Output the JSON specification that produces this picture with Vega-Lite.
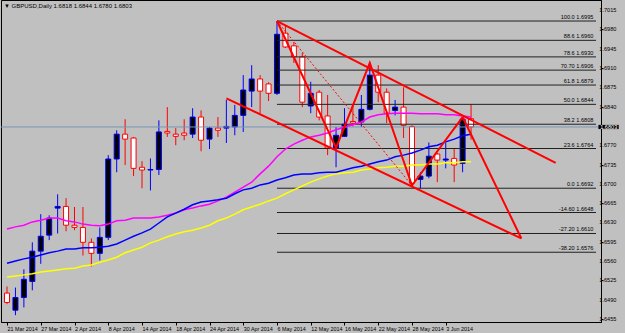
{
"$schema": "https://vega.github.io/schema/vega-lite/v6.json",
"width": 600, "height": 322,
"autosize": {"type": "none"},
"padding": {"left": 1, "top": 0, "right": 24, "bottom": 11},
"background": "#c0c0c0",
"config": {"view": {"fill": "#c0c0c0", "stroke": "#000000", "strokeWidth": 1}, "font": "Liberation Sans"},
"title": {"text": "▼ GBPUSD,Daily  1.6818 1.6844 1.6780 1.6803", "anchor": "start", "frame": "group", "fontSize": 6, "fontWeight": "normal", "font": "Liberation Sans", "color": "#000000", "offset": -9, "dx": 3, "baseline": "top"},
"datasets": {
"candles": [
{"i":0,"o":1.6502,"h":1.6514,"l":1.6482,"c":1.6485,"m1":1.6618,"m2":1.6556,"m3":1.6531},
{"i":1,"o":1.6471,"h":1.6512,"l":1.6462,"c":1.6494,"m1":1.6622,"m2":1.6560,"m3":1.6533},
{"i":2,"o":1.6494,"h":1.6545,"l":1.6476,"c":1.6527,"m1":1.6625,"m2":1.6564,"m3":1.6535},
{"i":3,"o":1.6523,"h":1.6594,"l":1.6507,"c":1.6578,"m1":1.6631,"m2":1.6567,"m3":1.6537},
{"i":4,"o":1.6578,"h":1.6645,"l":1.6555,"c":1.6605,"m1":1.6634,"m2":1.6571,"m3":1.6540},
{"i":5,"o":1.6607,"h":1.6643,"l":1.6598,"c":1.6638,"m1":1.6638,"m2":1.6575,"m3":1.6542},
{"i":6,"o":1.6656,"h":1.6681,"l":1.6610,"c":1.6659,"m1":1.6638,"m2":1.6578,"m3":1.6544},
{"i":7,"o":1.6659,"h":1.6674,"l":1.6614,"c":1.6625,"m1":1.6633,"m2":1.6582,"m3":1.6546},
{"i":8,"o":1.6625,"h":1.6658,"l":1.6616,"c":1.6621,"m1":1.6631,"m2":1.6582,"m3":1.6547},
{"i":9,"o":1.6621,"h":1.6658,"l":1.6570,"c":1.6594,"m1":1.6627,"m2":1.6584,"m3":1.6551},
{"i":10,"o":1.6594,"h":1.6601,"l":1.6550,"c":1.6574,"m1":1.6625,"m2":1.6584,"m3":1.6553},
{"i":11,"o":1.6574,"h":1.6621,"l":1.6561,"c":1.6603,"m1":1.6624,"m2":1.6585,"m3":1.6558},
{"i":12,"o":1.6603,"h":1.6752,"l":1.6598,"c":1.6745,"m1":1.6627,"m2":1.6587,"m3":1.6562},
{"i":13,"o":1.6745,"h":1.6797,"l":1.6721,"c":1.6790,"m1":1.6633,"m2":1.6591,"m3":1.6567},
{"i":14,"o":1.6790,"h":1.6817,"l":1.6734,"c":1.6781,"m1":1.6634,"m2":1.6598,"m3":1.6575},
{"i":15,"o":1.6783,"h":1.6785,"l":1.6714,"c":1.6728,"m1":1.6638,"m2":1.6605,"m3":1.6580},
{"i":16,"o":1.6730,"h":1.6741,"l":1.6692,"c":1.6725,"m1":1.6638,"m2":1.6611,"m3":1.6585},
{"i":17,"o":1.6725,"h":1.6746,"l":1.6688,"c":1.6726,"m1":1.6638,"m2":1.6618,"m3":1.6593},
{"i":18,"o":1.6726,"h":1.6815,"l":1.6716,"c":1.6794,"m1":1.6640,"m2":1.6629,"m3":1.6598},
{"i":19,"o":1.6795,"h":1.6839,"l":1.6785,"c":1.6792,"m1":1.6643,"m2":1.6640,"m3":1.6604},
{"i":20,"o":1.6790,"h":1.6801,"l":1.6770,"c":1.6786,"m1":1.6647,"m2":1.6647,"m3":1.6609},
{"i":21,"o":1.6792,"h":1.6817,"l":1.6779,"c":1.6788,"m1":1.6653,"m2":1.6654,"m3":1.6613},
{"i":22,"o":1.6790,"h":1.6837,"l":1.6783,"c":1.6821,"m1":1.6656,"m2":1.6662,"m3":1.6616},
{"i":23,"o":1.6821,"h":1.6833,"l":1.6759,"c":1.6779,"m1":1.6660,"m2":1.6667,"m3":1.6620},
{"i":24,"o":1.6781,"h":1.6803,"l":1.6763,"c":1.6801,"m1":1.6663,"m2":1.6669,"m3":1.6625},
{"i":25,"o":1.6801,"h":1.6821,"l":1.6785,"c":1.6797,"m1":1.6669,"m2":1.6671,"m3":1.6633},
{"i":26,"o":1.6801,"h":1.6852,"l":1.6774,"c":1.6804,"m1":1.6676,"m2":1.6674,"m3":1.6638},
{"i":27,"o":1.6803,"h":1.6843,"l":1.6788,"c":1.6824,"m1":1.6685,"m2":1.6682,"m3":1.6645},
{"i":28,"o":1.6824,"h":1.6897,"l":1.6794,"c":1.6870,"m1":1.6694,"m2":1.6689,"m3":1.6653},
{"i":29,"o":1.6868,"h":1.6915,"l":1.6839,"c":1.6890,"m1":1.6703,"m2":1.6692,"m3":1.6658},
{"i":30,"o":1.6890,"h":1.6897,"l":1.6828,"c":1.6868,"m1":1.6718,"m2":1.6698,"m3":1.6663},
{"i":31,"o":1.6881,"h":1.6884,"l":1.6850,"c":1.6864,"m1":1.6732,"m2":1.6701,"m3":1.6669},
{"i":32,"o":1.6864,"h":1.6995,"l":1.6861,"c":1.6971,"m1":1.6749,"m2":1.6707,"m3":1.6674},
{"i":33,"o":1.6973,"h":1.6988,"l":1.6946,"c":1.6948,"m1":1.6763,"m2":1.6711,"m3":1.6682},
{"i":34,"o":1.6950,"h":1.6957,"l":1.6919,"c":1.6930,"m1":1.6772,"m2":1.6716,"m3":1.6689},
{"i":35,"o":1.6930,"h":1.6937,"l":1.6839,"c":1.6848,"m1":1.6779,"m2":1.6718,"m3":1.6696},
{"i":36,"o":1.6841,"h":1.6885,"l":1.6828,"c":1.6864,"m1":1.6785,"m2":1.6718,"m3":1.6703},
{"i":37,"o":1.6866,"h":1.6870,"l":1.6815,"c":1.6821,"m1":1.6788,"m2":1.6720,"m3":1.6709},
{"i":38,"o":1.6823,"h":1.6861,"l":1.6752,"c":1.6765,"m1":1.6792,"m2":1.6721,"m3":1.6714},
{"i":39,"o":1.6765,"h":1.6803,"l":1.6730,"c":1.6788,"m1":1.6798,"m2":1.6721,"m3":1.6718},
{"i":40,"o":1.6786,"h":1.6837,"l":1.6785,"c":1.6808,"m1":1.6803,"m2":1.6725,"m3":1.6720},
{"i":41,"o":1.6813,"h":1.6841,"l":1.6804,"c":1.6810,"m1":1.6807,"m2":1.6729,"m3":1.6721},
{"i":42,"o":1.6812,"h":1.6861,"l":1.6803,"c":1.6835,"m1":1.6812,"m2":1.6732,"m3":1.6725},
{"i":43,"o":1.6835,"h":1.6919,"l":1.6833,"c":1.6897,"m1":1.6821,"m2":1.6736,"m3":1.6727},
{"i":44,"o":1.6897,"h":1.6915,"l":1.6848,"c":1.6866,"m1":1.6825,"m2":1.6740,"m3":1.6729},
{"i":45,"o":1.6866,"h":1.6873,"l":1.6810,"c":1.6828,"m1":1.6827,"m2":1.6743,"m3":1.6730},
{"i":46,"o":1.6833,"h":1.6852,"l":1.6824,"c":1.6839,"m1":1.6828,"m2":1.6749,"m3":1.6732},
{"i":47,"o":1.6839,"h":1.6875,"l":1.6783,"c":1.6806,"m1":1.6828,"m2":1.6752,"m3":1.6732},
{"i":48,"o":1.6804,"h":1.6806,"l":1.6696,"c":1.6701,"m1":1.6828,"m2":1.6756,"m3":1.6734},
{"i":49,"o":1.6708,"h":1.6721,"l":1.6692,"c":1.6714,"m1":1.6827,"m2":1.6761,"m3":1.6734},
{"i":50,"o":1.6714,"h":1.6775,"l":1.6710,"c":1.6750,"m1":1.6827,"m2":1.6767,"m3":1.6736},
{"i":51,"o":1.6754,"h":1.6756,"l":1.6703,"c":1.6743,"m1":1.6827,"m2":1.6770,"m3":1.6736},
{"i":52,"o":1.6743,"h":1.6774,"l":1.6728,"c":1.6745,"m1":1.6825,"m2":1.6776,"m3":1.6738},
{"i":53,"o":1.6746,"h":1.6765,"l":1.6703,"c":1.6734,"m1":1.6825,"m2":1.6781,"m3":1.6738},
{"i":54,"o":1.6737,"h":1.6821,"l":1.6721,"c":1.6817,"m1":1.6823,"m2":1.6787,"m3":1.6740},
{"i":55,"o":1.6818,"h":1.6844,"l":1.6780,"c":1.6803,"m1":1.6821,"m2":1.6790,"m3":1.6740}
],
"fib": [
{"lbl":"100.0 1.6995","p":1.6995},
{"lbl":"88.6 1.6960","p":1.6960},
{"lbl":"78.6 1.6930","p":1.6930},
{"lbl":"70.70 1.6906","p":1.6906},
{"lbl":"61.8 1.6879","p":1.6879},
{"lbl":"50.0 1.6844","p":1.6844},
{"lbl":"38.2 1.6808","p":1.6808},
{"lbl":"23.6 1.6764","p":1.6764},
{"lbl":"0.0 1.6692","p":1.6692},
{"lbl":"-14.60 1.6648","p":1.6648},
{"lbl":"-27.20 1.6610","p":1.6610},
{"lbl":"-38.20 1.6576","p":1.6576}
],
"objs": [
{"seg":"upper","k":0,"i":32,"p":1.6995},
{"seg":"upper","k":1,"i":65.03,"p":1.6738},
{"seg":"lower","k":0,"i":26,"p":1.6855},
{"seg":"lower","k":1,"i":60.96,"p":1.6601},
{"seg":"apex","k":0,"i":54,"p":1.6821},
{"seg":"apex","k":1,"i":60.96,"p":1.6601},
{"seg":"zigzag","k":0,"i":32,"p":1.6995},
{"seg":"zigzag","k":1,"i":39,"p":1.6765},
{"seg":"zigzag","k":2,"i":43,"p":1.6919},
{"seg":"zigzag","k":3,"i":48,"p":1.6697},
{"seg":"zigzag","k":4,"i":54,"p":1.6821}
],
"diag": [
{"k":0,"i":32,"p":1.6995},
{"k":1,"i":48,"p":1.6697}
],
"bid": [{"bid": 1.6803, "lbl": "1.6803"}],
"yt": [
{"v":1.7015,"t":"1.7015"},{"v":1.698,"t":"1.6980"},{"v":1.6945,"t":"1.6945"},{"v":1.691,"t":"1.6910"},
{"v":1.6875,"t":"1.6875"},{"v":1.684,"t":"1.6840"},{"v":1.677,"t":"1.6770"},{"v":1.6735,"t":"1.6735"},
{"v":1.67,"t":"1.6700"},{"v":1.6665,"t":"1.6665"},{"v":1.663,"t":"1.6630"},{"v":1.6595,"t":"1.6595"},
{"v":1.656,"t":"1.6560"},{"v":1.6525,"t":"1.6525"},{"v":1.649,"t":"1.6490"},{"v":1.6455,"t":"1.6455"}
]
},
"layer": [
{
"data": {"name": "candles"},
"mark": {"type": "rule", "strokeWidth": 1},
"encoding": {
"x": {"field": "i", "type": "quantitative", "scale": {"domain": [-0.12, 69.81], "nice": false, "zero": false},
"axis": {"values": [0,4,8,12,16,20,24,28,32,36,40,44,48,52], "labelExpr": "['21 Mar 2014','27 Mar 2014','2 Apr 2014','8 Apr 2014','14 Apr 2014','18 Apr 2014','24 Apr 2014','30 Apr 2014','6 May 2014','12 May 2014','16 May 2014','22 May 2014','28 May 2014','3 Jun 2014'][round(datum.value/4)]", "title": null, "grid": false, "domainColor": "#000000", "tickColor": "#000000", "tickSize": 3, "labelAlign": "left", "labelPadding": 1, "labelFontSize": 5.4, "labelColor": "#000000", "labelFlush": false, "labelOverlap": false, "labelFont": "Liberation Sans"}},
"y": {"field": "l", "type": "quantitative", "scale": {"domain": [1.64496, 1.70331], "nice": false, "zero": false},
"axis": {"orient": "right", "values": [1.7015,1.698,1.6945,1.691,1.6875,1.684,1.677,1.6735,1.67,1.6665,1.663,1.6595,1.656,1.6525,1.649,1.6455], "labels": false, "title": null, "grid": false, "domainColor": "#000000", "tickColor": "#000000", "tickSize": 2}},
"y2": {"field": "h"},
"color": {"condition": {"test": "datum.c >= datum.o", "value": "#0000ff"}, "value": "#ff0000"}
}
},
{
"data": {"name": "candles"},
"mark": {"type": "bar", "width": 5, "strokeWidth": 1},
"encoding": {
"x": {"field": "i", "type": "quantitative"},
"y": {"field": "o", "type": "quantitative", "axis": {"title": null}},
"y2": {"field": "c"},
"fill": {"condition": {"test": "datum.c >= datum.o", "value": "#000000"}, "value": "#ffffff"},
"stroke": {"condition": {"test": "datum.c >= datum.o", "value": "#0000ff"}, "value": "#ff0000"}
}
},
{
"data": {"name": "fib"},
"mark": {"type": "rule", "color": "#202020", "strokeWidth": 1},
"encoding": {
"x": {"datum": 32, "type": "quantitative"},
"x2": {"datum": 69.81},
"y": {"field": "p", "type": "quantitative", "axis": {"title": null}}
}
},
{
"data": {"name": "fib"},
"mark": {"type": "text", "align": "right", "baseline": "bottom", "dy": -1, "fontSize": 5.6, "font": "Liberation Sans", "color": "#000000"},
"encoding": {
"x": {"datum": 69.5, "type": "quantitative"},
"y": {"field": "p", "type": "quantitative", "axis": {"title": null}},
"text": {"field": "lbl"}
}
},
{
"data": {"name": "bid"},
"mark": {"type": "rule", "color": "#7896b4", "strokeWidth": 1},
"encoding": {"y": {"field": "bid", "type": "quantitative", "axis": {"title": null}}}
},
{
"data": {"name": "candles"},
"mark": {"type": "line", "color": "#ff00ff", "strokeWidth": 1.5},
"encoding": {"x": {"field": "i", "type": "quantitative"}, "y": {"field": "m1", "type": "quantitative", "axis": {"title": null}}}
},
{
"data": {"name": "candles"},
"mark": {"type": "line", "color": "#0000ff", "strokeWidth": 1.5},
"encoding": {"x": {"field": "i", "type": "quantitative"}, "y": {"field": "m2", "type": "quantitative", "axis": {"title": null}}}
},
{
"data": {"name": "candles"},
"mark": {"type": "line", "color": "#ffff00", "strokeWidth": 1.5},
"encoding": {"x": {"field": "i", "type": "quantitative"}, "y": {"field": "m3", "type": "quantitative", "axis": {"title": null}}}
},
{
"data": {"name": "diag"},
"mark": {"type": "line", "color": "#ff0000", "strokeWidth": 1, "strokeDash": [2, 2]},
"encoding": {"x": {"field": "i", "type": "quantitative"}, "y": {"field": "p", "type": "quantitative", "axis": {"title": null}}, "order": {"field": "k"}}
},
{
"data": {"name": "objs"},
"mark": {"type": "line", "color": "#ff0000", "strokeWidth": 2},
"encoding": {"x": {"field": "i", "type": "quantitative"}, "y": {"field": "p", "type": "quantitative", "axis": {"title": null}}, "detail": {"field": "seg"}, "order": {"field": "k"}}
},
{
"data": {"name": "yt"},
"mark": {"type": "text", "align": "left", "baseline": "middle", "fontSize": 5.6, "font": "Liberation Sans", "color": "#000000"},
"encoding": {
"x": {"datum": 70.2, "type": "quantitative"},
"y": {"field": "v", "type": "quantitative", "axis": {"title": null}},
"text": {"field": "t"}
}
},
{
"data": {"name": "bid"},
"mark": {"type": "rect", "color": "#000000"},
"encoding": {
"x": {"datum": 70.1, "type": "quantitative"},
"x2": {"datum": 72.5},
"y": {"datum": 1.68068, "type": "quantitative"},
"y2": {"datum": 1.67992}
}
},
{
"data": {"name": "bid"},
"mark": {"type": "text", "align": "left", "baseline": "middle", "fontSize": 5.6, "font": "Liberation Sans", "color": "#ffffff"},
"encoding": {
"x": {"datum": 70.3, "type": "quantitative"},
"y": {"field": "bid", "type": "quantitative", "axis": {"title": null}},
"text": {"field": "lbl"}
}
}
]
}
